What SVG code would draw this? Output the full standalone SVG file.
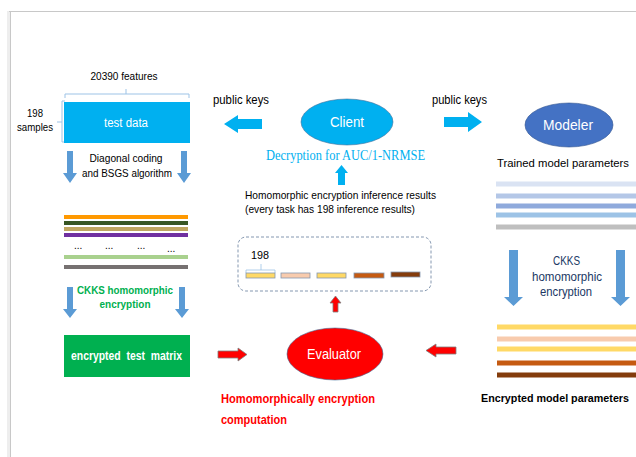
<svg xmlns="http://www.w3.org/2000/svg" width="636" height="457" viewBox="0 0 636 457">
<style>
text{font-family:"Liberation Sans","Noto Sans",sans-serif;}
.t{font-size:11px;fill:#000;}
.b{font-weight:bold;}
.w{fill:#fff;font-size:13px;}
.c{text-anchor:middle;}
.blue{fill:#5b9bd5;}
.cy{fill:#00b0f0;}
.red{fill:#ff0000;stroke:#7f7f7f;stroke-width:0.8;}
.ln{stroke-width:4;}
.bar{stroke:#8497b0;stroke-width:0.8;}
</style>
<rect x="0" y="0" width="636" height="457" fill="#fff"/>
<rect x="7" y="11" width="3" height="446" fill="#eeeeee"/>
<line x1="10.5" y1="11" x2="10.5" y2="457" stroke="#c8c8c8" stroke-width="1"/>
<line x1="9" y1="11.5" x2="636" y2="11.5" stroke="#c8c8c8" stroke-width="1"/>

<g id="test-data">
<text class="t c" x="124" y="80" textLength="67" lengthAdjust="spacingAndGlyphs">20390 features</text>
<path d="M65,98 V94 H189 V98 M126,94 V89" fill="none" stroke="#9dc3e6" stroke-width="1"/>
<path d="M65,101 H62 V142 H65 M62,122 H57" fill="none" stroke="#9dc3e6" stroke-width="1"/>
<text class="t c" x="35" y="117" textLength="16" lengthAdjust="spacingAndGlyphs">198</text>
<text class="t c" x="35" y="131" textLength="36" lengthAdjust="spacingAndGlyphs">samples</text>
<rect x="64" y="102" width="126" height="41" fill="#00b0f0"/>
<text class="w c" x="126" y="127" style="font-size:12px" textLength="44" lengthAdjust="spacingAndGlyphs">test data</text>
</g>

<g id="diagonal-step">
<text class="t c" x="126" y="162" textLength="73" lengthAdjust="spacingAndGlyphs">Diagonal coding</text>
<text class="t c" x="127" y="177" textLength="90" lengthAdjust="spacingAndGlyphs">and BSGS algorithm</text>
</g>

<g id="plain-matrix">
<line class="ln" x1="64" y1="217" x2="188" y2="217" stroke="#ff9900"/>
<line class="ln" x1="64" y1="223" x2="188" y2="223" stroke="#375623"/>
<line class="ln" x1="64" y1="229" x2="188" y2="229" stroke="#bfa660"/>
<line class="ln" x1="64" y1="235" x2="188" y2="235" stroke="#7030a0"/>
<text class="t" x="74" y="249" style="font-size:10px">...</text>
<text class="t" x="105" y="249" style="font-size:10px">...</text>
<text class="t" x="137" y="249" style="font-size:10px">...</text>
<text class="t" x="167" y="252" style="font-size:10px">...</text>
<line class="ln" x1="64" y1="257" x2="188" y2="257" stroke="#a9d18e"/>
<line class="ln" x1="64" y1="267" x2="188" y2="267" stroke="#767171"/>
</g>

<g id="ckks-left-label">
<text class="b c" x="125" y="294" style="font-size:11.5px;fill:#00b050" textLength="96" lengthAdjust="spacingAndGlyphs">CKKS homomorphic</text>
<text class="b c" x="125" y="308" style="font-size:11.5px;fill:#00b050" textLength="51" lengthAdjust="spacingAndGlyphs">encryption</text>
</g>

<g id="encrypted-test-matrix">
<rect x="64" y="335" width="126" height="42" fill="#00b050"/>
<text class="w c b" x="126.5" y="360" style="font-size:12px;white-space:pre" textLength="111" lengthAdjust="spacingAndGlyphs">encrypted  test  matrix</text>
</g>

<g id="client">
<ellipse cx="347" cy="122" rx="46" ry="23" fill="#00b0f0" stroke="#41719c" stroke-width="0.6"/>
<text class="w c" x="347" y="127" style="font-size:14px" textLength="34" lengthAdjust="spacingAndGlyphs">Client</text>
<text class="c" x="345.5" y="160" style="font-family:'Liberation Serif','DejaVu Serif',serif;font-size:14px;fill:#00b0f0" textLength="159" lengthAdjust="spacingAndGlyphs">Decryption for AUC/1-NRMSE</text>
</g>

<g id="modeler">
<ellipse cx="569" cy="125" rx="44" ry="22" fill="#4472c4" stroke="#2f528f" stroke-width="0.6"/>
<text class="w c" x="568" y="130" style="font-size:14px" textLength="50" lengthAdjust="spacingAndGlyphs">Modeler</text>
<text class="t" x="497" y="167" style="font-size:11.5px" textLength="132" lengthAdjust="spacingAndGlyphs">Trained model parameters</text>
<line x1="496" y1="184" x2="636" y2="184" stroke="#dae3f3" stroke-width="5"/>
<line x1="496" y1="196" x2="636" y2="196" stroke="#b4c7e7" stroke-width="5"/>
<line x1="496" y1="206" x2="636" y2="206" stroke="#8faadc" stroke-width="5"/>
<line x1="496" y1="215" x2="636" y2="215" stroke="#9dc3e6" stroke-width="5"/>
<line x1="496" y1="227" x2="636" y2="227" stroke="#bfbfbf" stroke-width="5"/>
</g>

<g id="ckks-right-label">
<text class="c" x="566.5" y="265" style="font-size:12px;fill:#203864" textLength="27" lengthAdjust="spacingAndGlyphs">CKKS</text>
<text class="c" x="567" y="281" style="font-size:12px;fill:#203864" textLength="70" lengthAdjust="spacingAndGlyphs">homomorphic</text>
<text class="c" x="566" y="296" style="font-size:12px;fill:#203864" textLength="52" lengthAdjust="spacingAndGlyphs">encryption</text>
</g>

<g id="encrypted-model">
<line x1="497" y1="327" x2="636" y2="327" stroke="#ffd966" stroke-width="5"/>
<line x1="497" y1="339" x2="636" y2="339" stroke="#f8cbad" stroke-width="5"/>
<line x1="497" y1="349" x2="636" y2="349" stroke="#ffd966" stroke-width="5"/>
<line x1="497" y1="363" x2="636" y2="363" stroke="#c55a11" stroke-width="5"/>
<line x1="497" y1="375" x2="636" y2="375" stroke="#843c0c" stroke-width="5"/>
<text class="t b" x="481" y="402" style="font-size:10.8px" textLength="148" lengthAdjust="spacingAndGlyphs">Encrypted model parameters</text>
</g>

<g id="evaluator">
<ellipse cx="335" cy="354" rx="48" ry="26" fill="#ff0000" stroke="#41719c" stroke-width="0.6"/>
<text class="w c" x="334" y="359" style="font-size:14px" textLength="54" lengthAdjust="spacingAndGlyphs">Evaluator</text>
<text class="b" x="221" y="403" style="font-size:12px;fill:#ff0000" textLength="154" lengthAdjust="spacingAndGlyphs">Homomorphically encryption</text>
<text class="b" x="221" y="424" style="font-size:12px;fill:#ff0000" textLength="66" lengthAdjust="spacingAndGlyphs">computation</text>
</g>

<g id="inference-results">
<text class="t" x="245" y="199" style="font-size:11px" textLength="191" lengthAdjust="spacingAndGlyphs">Homomorphic encryption inference results</text>
<text class="t" x="245" y="213" style="font-size:11px" textLength="170" lengthAdjust="spacingAndGlyphs">(every task has 198 inference results)</text>
<rect x="238" y="237" width="193" height="54" rx="8" ry="8" fill="none" stroke="#8497b0" stroke-width="1" stroke-dasharray="3,2"/>
<text class="t" x="251" y="259" style="font-size:11.5px" textLength="18" lengthAdjust="spacingAndGlyphs">198</text>
<path d="M246,273 V270 H275 V273 M261,270 V264" fill="none" stroke="#9dc3e6" stroke-width="0.8"/>
<rect class="bar" x="246" y="273" width="29" height="5" fill="#ffd966"/>
<rect class="bar" x="281" y="273" width="29" height="5" fill="#f8cbad"/>
<rect class="bar" x="317" y="273" width="29" height="5" fill="#ffd966"/>
<rect class="bar" x="354" y="273" width="30" height="5" fill="#c55a11"/>
<rect class="bar" x="391" y="272" width="29" height="5" fill="#843c0c"/>
</g>

<g id="connectors">
<path class="blue" d="M67,151 H73 V173 H77 L70,183 L63,173 H67 Z"/>
<path class="blue" d="M181,151 H187 V173 H191 L184,183 L177,173 H181 Z"/>
<path class="blue" d="M67,287 H73 V309 H77 L70,318 L63,309 H67 Z"/>
<path class="blue" d="M179,287 H185 V309 H189 L182,318 L175,309 H179 Z"/>
<path class="blue" d="M509,250 H518 V297 H523 L513.5,306 L504,297 H509 Z"/>
<path class="blue" d="M616,250 H625 V297 H630 L620.5,306 L611,297 H616 Z"/>
<text class="t" x="213" y="104" style="font-size:12px" textLength="56" lengthAdjust="spacingAndGlyphs">public keys</text>
<text class="t" x="432" y="104" style="font-size:12px" textLength="55" lengthAdjust="spacingAndGlyphs">public keys</text>
<path class="cy" d="M262,119 V129 H238 V133 L224,124 L238,115 V119 Z"/>
<path class="cy" d="M444,117 V127 H468 V132 L482,122 L468,112 V117 Z"/>
<path class="cy" d="M338,185 V173 H335 L341.5,165 L348,173 H345 V185 Z"/>
<path class="red" d="M218,351 H238 V348 L247,354.5 L238,361 V358 H218 Z"/>
<path class="red" d="M456,347 H436 V344 L426,350.5 L436,357 V354 H456 Z"/>
<path class="red" d="M333,312 V303 H330 L335.5,296 L341,303 H338 V312 Z"/>
</g>
</svg>
